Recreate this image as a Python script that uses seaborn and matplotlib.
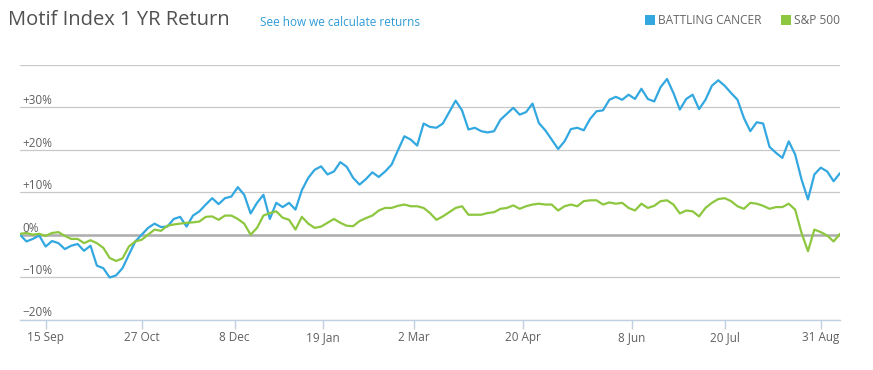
import numpy as np
import pandas as pd
import matplotlib
matplotlib.use("Agg")
import matplotlib.pyplot as plt
import seaborn as sns
from matplotlib.lines import Line2D

# ---------------- data ----------------
series_names = ["BATTLING CANCER", "S&P 500"]
series_colors = ["#33A8E0", "#8DC73F"]

# returns (%) sampled every second trading day
battling_cancer = [
    0.0, -1.6, -1.0, -0.2, -2.8, -1.5, -2.0, -3.4, -2.6, -2.2, -3.8, -2.6, -7.3, -7.9, -10.1, -9.6,
    -7.9, -4.7, -1.6, 0.0, 1.6, 2.6, 1.8, 1.9, 3.7, 4.2, 1.9, 4.5, 5.5, 7.1, 8.6, 7.2,
    8.6, 9.0, 11.2, 9.4, 5.0, 7.5, 9.4, 3.7, 7.5, 6.5, 7.5, 5.9, 10.5, 13.4, 15.3, 16.1,
    14.2, 14.9, 17.1, 16.0, 13.4, 11.8, 13.1, 14.7, 13.6, 14.9, 16.5, 19.9, 23.2, 22.4, 21.0, 26.2,
    25.4, 25.2, 26.2, 28.9, 31.6, 29.3, 24.8, 25.2, 24.4, 24.1, 24.4, 27.1, 28.5, 29.9, 28.3, 28.9,
    30.9, 26.3, 24.6, 22.4, 20.2, 22.0, 24.9, 25.2, 24.6, 27.3, 29.1, 29.3, 31.8, 32.5, 31.8, 33.0,
    32.0, 34.4, 32.0, 31.4, 34.8, 36.7, 33.4, 29.5, 32.0, 33.0, 29.6, 31.8, 35.1, 36.4, 35.1, 33.4,
    31.8, 27.5, 24.4, 26.5, 26.2, 20.7, 19.3, 18.1, 22.0, 18.9, 13.0, 8.3, 14.2, 15.8, 14.9, 12.6, 14.5,
]
sp500 = [
    0.2, 0.4, 0.0, 0.2, -0.3, 0.4, 0.6, -0.3, -1.0, -1.0, -2.0, -1.3, -2.0, -3.1, -5.5, -6.2,
    -5.6, -2.8, -1.6, -1.2, 0.0, 1.2, 0.9, 2.1, 2.4, 2.6, 2.8, 2.9, 3.1, 4.2, 4.3, 3.5,
    4.5, 4.5, 3.7, 2.6, 0.0, 1.6, 4.5, 5.1, 5.5, 4.0, 3.5, 1.2, 4.2, 2.6, 1.6, 1.9,
    2.8, 3.7, 2.8, 2.1, 2.0, 3.2, 3.9, 4.5, 5.7, 6.3, 6.3, 6.8, 7.1, 6.7, 6.7, 6.3,
    5.1, 3.5, 4.3, 5.3, 6.3, 6.7, 4.7, 4.7, 4.7, 5.1, 5.3, 6.1, 6.3, 6.9, 6.1, 6.7,
    7.1, 7.3, 7.1, 7.1, 5.7, 6.7, 7.1, 6.7, 7.9, 8.1, 8.1, 7.1, 7.6, 7.3, 7.5, 6.3,
    5.7, 7.3, 6.3, 6.8, 7.9, 8.1, 7.1, 5.0, 5.7, 5.5, 4.3, 6.3, 7.5, 8.4, 8.6, 7.9,
    6.7, 6.1, 7.5, 7.3, 6.8, 6.1, 6.5, 6.5, 7.3, 5.9, 0.4, -3.9, 1.2, 0.6, -0.2, -1.6, 0.2,
]

start_date = "2014-09-03"
end_date = "2015-09-09"
market_holidays = ["2014-11-27", "2014-12-25", "2015-01-01", "2015-01-19", "2015-02-16",
                   "2015-04-03", "2015-05-25", "2015-07-03", "2015-09-07"]

tick_dates = ["2014-09-15", "2014-10-27", "2014-12-08", "2015-01-19", "2015-03-02",
              "2015-04-20", "2015-06-08", "2015-07-20", "2015-08-31"]
tick_labels = ["15 Sep", "27 Oct", "8 Dec", "19 Jan", "2 Mar", "20 Apr", "8 Jun", "20 Jul", "31 Aug"]

grid_values = [-20, -10, 0, 10, 20, 30, 40]
grid_labels = ["\u221220%", "\u221210%", "0%", "+10%", "+20%", "+30%", ""]

title_text = "Motif Index 1 YR Return"
link_text = "See how we calculate returns"

# ---------------- build table (ordinal trading-day axis) ----------------
trading_days = pd.bdate_range(start_date, end_date, freq="C", holidays=market_holidays)
positions = np.arange(len(trading_days))
sample_pos = positions[::2][:len(battling_cancer)]
sample_dates = trading_days[::2][:len(battling_cancer)]

df = pd.concat([
    pd.DataFrame({"pos": sample_pos, "date": sample_dates, "ret": battling_cancer, "series": series_names[0]}),
    pd.DataFrame({"pos": sample_pos, "date": sample_dates, "ret": sp500, "series": series_names[1]}),
], ignore_index=True)

tick_pos = []
for d in tick_dates:
    ts = pd.Timestamp(d)
    i = trading_days.searchsorted(ts)
    tick_pos.append(i if ts in trading_days else i - 0.5)

# ---------------- plot ----------------
sns.set_theme(style="white")
plt.rcParams["font.family"] = ["Open Sans", "DejaVu Sans"]

W, H = 873, 370
fig = plt.figure(figsize=(W / 100, H / 100), dpi=100)
ax = fig.add_axes([20 / W, (H - 319.5) / H, 820 / W, (319.5 - 65) / H])

sns.lineplot(data=df, x="pos", y="ret", hue="series", hue_order=series_names,
             palette=dict(zip(series_names, series_colors)), linewidth=1.6,
             legend=False, ax=ax, zorder=3)

ax.set_xlim(0, len(trading_days) - 1)
ax.set_ylim(-20, 40)
ax.set_xlabel("")
ax.set_ylabel("")

# y grid with labels sitting above the lines, inside the plot
ax.set_yticks(grid_values)
ax.set_yticklabels(grid_labels)
ax.yaxis.grid(True, color="#C8C8C8", linewidth=0.9)
ax.axhline(0, color="#ADADAD", linewidth=1.8, zorder=2)
ax.tick_params(axis="y", length=0, pad=-1.5, labelsize=8.5, labelcolor="#606060")
for lbl in ax.get_yticklabels():
    lbl.set_horizontalalignment("left")
    lbl.set_verticalalignment("bottom")

ax.set_xticks(tick_pos)
ax.set_xticklabels(tick_labels)
ax.tick_params(axis="x", length=6.5, width=1, color="#C0D0E0", pad=2,
               labelsize=8.5, labelcolor="#606060", bottom=True)

for s in ["top", "right", "left"]:
    ax.spines[s].set_visible(False)
ax.spines["bottom"].set_color("#C0D0E0")
ax.spines["bottom"].set_linewidth(1)

# title, link, legend
fig.text(8 / W, 1 - 20 / H, title_text, fontsize=14.5, color="#505050", va="center", ha="left")
fig.text(260 / W, 1 - 22 / H, link_text, fontsize=8.5, color="#2F9BD6", va="center", ha="left")

handles = [Line2D([], [], marker="s", linestyle="", markersize=6.5, color=c,
                  markeredgewidth=0) for c in series_colors]
leg = fig.legend(handles, series_names, loc="center right", bbox_to_anchor=(840 / W, 1 - 21 / H),
                 ncol=2, frameon=False, handlelength=0.8, handletextpad=0.3,
                 columnspacing=1.6, fontsize=8.6, borderaxespad=0, borderpad=0)
for t in leg.get_texts():
    t.set_color("#666666")

fig.savefig("out.png", dpi=100)
